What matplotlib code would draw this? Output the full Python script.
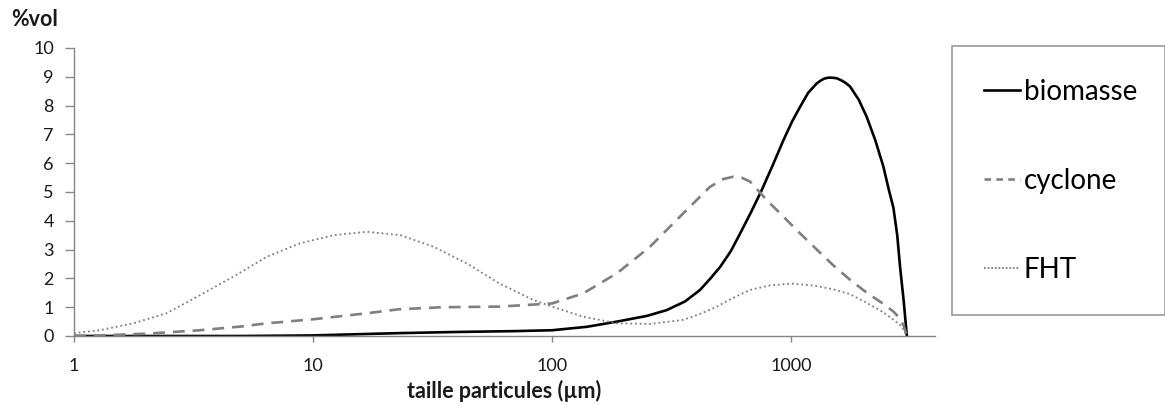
import matplotlib
matplotlib.use("Agg")
import matplotlib.pyplot as plt
from matplotlib.lines import Line2D

plt.rcParams['font.family'] = ['Lato', 'DejaVu Sans']

# ---- data ----
bio_x = [1, 2, 5, 10, 15, 23, 40, 70, 100, 140, 187, 250, 302, 360, 416, 460, 505, 560, 612, 680, 754, 840,
         929, 1010, 1091, 1180, 1280, 1330, 1380, 1430, 1480, 1550, 1620, 1690, 1766, 1920, 2074, 2250, 2433,
         2560, 2680, 2780, 2857, 2960, 3050]
bio_y = [0.0, 0.0, 0.0, 0.02, 0.06, 0.1, 0.14, 0.17, 0.2, 0.32, 0.5, 0.7, 0.9, 1.2, 1.6, 2.0, 2.4, 2.95, 3.56, 4.3, 5.07, 5.95,
         6.8, 7.45, 7.96, 8.45, 8.77, 8.87, 8.94, 8.97, 8.97, 8.95, 8.88, 8.79, 8.66, 8.2, 7.6, 6.8, 5.88,
         5.1, 4.45, 3.5, 2.4, 1.2, 0.0]

cyc_x = [1, 1.28, 2, 3.37, 5, 6.4, 10, 16.8, 23, 35, 60, 100, 135, 187, 257, 354, 458, 520, 574, 620, 674, 791,
         940, 1091, 1300, 1503, 1766, 2074, 2400, 2680, 2857, 2960, 3050]
cyc_y = [0.0, 0.02, 0.08, 0.2, 0.33, 0.44, 0.58, 0.79, 0.93, 1.0, 1.02, 1.13, 1.48, 2.18, 3.1, 4.26, 5.18, 5.45, 5.53, 5.5, 5.36, 4.72,
         4.1, 3.56, 2.95, 2.45, 1.95, 1.5, 1.15, 0.85, 0.6, 0.35, 0.0]

fht_x = [1, 1.28, 1.77, 2.44, 3.37, 4.64, 6.4, 8.83, 12.2, 16.8, 23.2, 31.9, 44, 60, 83.5, 100, 135, 187, 257, 354,
         420, 489, 570, 674, 820, 1000, 1250, 1503, 1766, 2074, 2400, 2700, 2857, 2960, 3050]
fht_y = [0.1, 0.2, 0.44, 0.79, 1.42, 2.06, 2.75, 3.22, 3.5, 3.62, 3.5, 3.1, 2.52, 1.83, 1.25, 1.02, 0.67, 0.44, 0.42, 0.56,
         0.78, 1.02, 1.32, 1.6, 1.76, 1.82, 1.75, 1.62, 1.45, 1.15, 0.85, 0.55, 0.38, 0.22, 0.0]

series_names = ['biomasse', 'cyclone', 'FHT']
y_ticks = list(range(0, 11))
x_ticks = [1, 10, 100, 1000]
x_tick_labels = ['1', '10', '100', '1000']

# ---- figure ----
W, H = 1165, 405
fig = plt.figure(figsize=(W / 100, H / 100), dpi=100)
ax = fig.add_axes([74 / W, 1 - 336 / H, (935 - 74) / W, (336 - 48) / H])

ax.plot(bio_x, bio_y, color='black', lw=1.9, solid_joinstyle='round')
ax.plot(cyc_x, cyc_y, color='#7f7f7f', lw=1.9, dashes=(4.5, 3))
ax.plot(fht_x, fht_y, color='#7f7f7f', lw=1.3, dashes=(1, 1.6))

ax.set_xscale('log')
ax.set_xlim(1, 4000)
ax.set_ylim(0, 10)
ax.set_yticks(y_ticks)
ax.set_xticks(x_ticks)
ax.set_xticklabels(x_tick_labels)
ax.xaxis.set_minor_locator(matplotlib.ticker.NullLocator())

for s in ['top', 'right']:
    ax.spines[s].set_visible(False)
for s in ['left', 'bottom']:
    ax.spines[s].set_color('#868686')
    ax.spines[s].set_linewidth(1.0)

ax.tick_params(axis='y', direction='out', length=6.5, width=1, color='#868686',
               labelsize=13, labelcolor='#1a1a1a', pad=8)
ax.tick_params(axis='x', direction='out', length=4, width=1, color='#868686',
               labelsize=13, labelcolor='#1a1a1a', pad=12)

ax.set_xlabel('taille particules (µm)', fontsize=15.5, fontweight='bold', labelpad=4, color='#1a1a1a')
fig.text(11 / W, 1 - 20 / H, '%vol', fontsize=15.5, fontweight='bold', va='center', ha='left', color='#1a1a1a')

handles = [
    Line2D([], [], color='black', lw=1.9),
    Line2D([], [], color='#7f7f7f', lw=1.9, dashes=(2.5, 2)),
    Line2D([], [], color='#7f7f7f', lw=1.3, dashes=(1, 1)),
]
leg = fig.legend(handles, series_names, loc='upper left',
                 bbox_to_anchor=(951.5 / W, 0, (W - 952) / W, 1 - 46 / H),
                 mode='expand', fontsize=20, frameon=True, fancybox=False,
                 handlelength=1.3, handletextpad=0.13, labelspacing=2.27,
                 borderpad=1.17, borderaxespad=0)
leg.get_frame().set_edgecolor('#808080')
leg.get_frame().set_linewidth(1.2)

fig.savefig('out.png', dpi=100)
